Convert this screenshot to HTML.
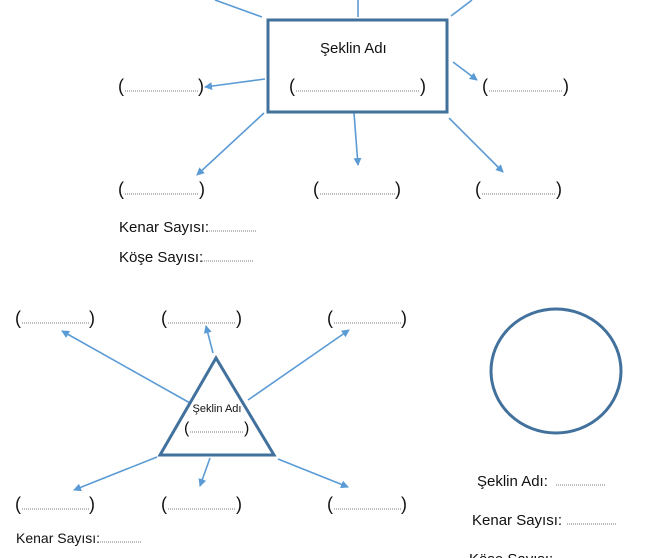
<!DOCTYPE html>
<html><head><meta charset="utf-8"><style>
html,body{margin:0;padding:0;background:#fff;}
svg{display:block;}
text{font-family:"Liberation Sans",sans-serif;fill:#111;}
.p{font-size:18px;}
.l{font-size:15px;}
.d{stroke:#777;stroke-width:1;stroke-dasharray:1 1;}
.c{stroke:#5b9bd5;stroke-width:1.6;fill:none;}
</style></head><body>
<svg width="660" height="558" viewBox="0 0 660 558" xmlns="http://www.w3.org/2000/svg">
<defs>
<marker id="a" markerWidth="8" markerHeight="8" refX="7" refY="4" orient="auto" markerUnits="userSpaceOnUse">
<path d="M0,0 L8,4 L0,8 z" fill="#5b9bd5"/></marker>
</defs>
<!-- top rectangle section -->
<line class="c" x1="215" y1="0" x2="262" y2="17"/>
<line class="c" x1="358" y1="0" x2="358" y2="17"/>
<line class="c" x1="472" y1="0" x2="451" y2="16"/>
<line class="c" x1="265" y1="79" x2="205" y2="87" marker-end="url(#a)"/>
<line class="c" x1="453" y1="62" x2="477" y2="80" marker-end="url(#a)"/>
<line class="c" x1="264" y1="113" x2="197" y2="175" marker-end="url(#a)"/>
<line class="c" x1="354" y1="113" x2="358" y2="165" marker-end="url(#a)"/>
<line class="c" x1="449" y1="118" x2="503" y2="172" marker-end="url(#a)"/>
<rect x="268" y="20" width="179" height="92" fill="none" stroke="#41719c" stroke-width="3"/>
<text class="l" x="320" y="53">Şeklin Adı</text>

<g id="pl">
</g>
<!-- paren labels -->
<text class="p" x="118" y="92">(</text><line class="d" x1="125" y1="91" x2="198" y2="91"/><text class="p" x="198" y="92">)</text>
<text class="p" x="289" y="92">(</text><line class="d" x1="296" y1="91" x2="420" y2="91"/><text class="p" x="420" y="92">)</text>
<text class="p" x="482" y="92">(</text><line class="d" x1="489" y1="91" x2="563" y2="91"/><text class="p" x="563" y="92">)</text>
<text class="p" x="118" y="195">(</text><line class="d" x1="125" y1="194" x2="199" y2="194"/><text class="p" x="199" y="195">)</text>
<text class="p" x="313" y="195">(</text><line class="d" x1="320" y1="194" x2="395" y2="194"/><text class="p" x="395" y="195">)</text>
<text class="p" x="475" y="195">(</text><line class="d" x1="482" y1="194" x2="556" y2="194"/><text class="p" x="556" y="195">)</text>

<text class="l" x="119" y="232">Kenar Sayısı:</text><line class="d" x1="209" y1="231" x2="256" y2="231"/>
<text class="l" x="119" y="262">Köşe Sayısı:</text><line class="d" x1="202" y1="261" x2="253" y2="261"/>

<!-- triangle section -->
<line class="c" x1="190" y1="403" x2="62" y2="331" marker-end="url(#a)"/>
<line class="c" x1="213" y1="353" x2="206" y2="326" marker-end="url(#a)"/>
<line class="c" x1="248" y1="400" x2="349" y2="330" marker-end="url(#a)"/>
<line class="c" x1="157" y1="457" x2="74" y2="490" marker-end="url(#a)"/>
<line class="c" x1="210" y1="458" x2="200" y2="486" marker-end="url(#a)"/>
<line class="c" x1="278" y1="459" x2="348" y2="487" marker-end="url(#a)"/>
<polygon points="216,358 160,455 274,455" fill="none" stroke="#41719c" stroke-width="3" stroke-linejoin="miter"/>
<text x="217" y="412" text-anchor="middle" style="font-size:11px">Şeklin Adı</text>
<text class="p" x="184" y="433" style="font-size:16px">(</text><line class="d" x1="190" y1="432" x2="244" y2="432"/><text class="p" x="244" y="433" style="font-size:16px">)</text>

<text class="p" x="15" y="324">(</text><line class="d" x1="22" y1="323" x2="89" y2="323"/><text class="p" x="89" y="324">)</text>
<text class="p" x="161" y="324">(</text><line class="d" x1="168" y1="323" x2="236" y2="323"/><text class="p" x="236" y="324">)</text>
<text class="p" x="327" y="324">(</text><line class="d" x1="334" y1="323" x2="401" y2="323"/><text class="p" x="401" y="324">)</text>
<text class="p" x="15" y="510">(</text><line class="d" x1="22" y1="509" x2="89" y2="509"/><text class="p" x="89" y="510">)</text>
<text class="p" x="161" y="510">(</text><line class="d" x1="168" y1="509" x2="236" y2="509"/><text class="p" x="236" y="510">)</text>
<text class="p" x="327" y="510">(</text><line class="d" x1="334" y1="509" x2="401" y2="509"/><text class="p" x="401" y="510">)</text>

<text class="l" x="16" y="543" style="font-size:14px">Kenar Sayısı:</text><line class="d" x1="98" y1="542" x2="141" y2="542"/>

<!-- circle section -->
<ellipse cx="556" cy="371" rx="65" ry="62" fill="none" stroke="#41719c" stroke-width="3"/>
<text class="l" x="477" y="486">Şeklin Adı:</text><line class="d" x1="556" y1="485" x2="605" y2="485"/>
<text class="l" x="472" y="525">Kenar Sayısı:</text><line class="d" x1="567" y1="524" x2="616" y2="524"/>
<text class="l" x="469" y="564">Köşe Sayısı:</text>
</svg>
</body></html>
